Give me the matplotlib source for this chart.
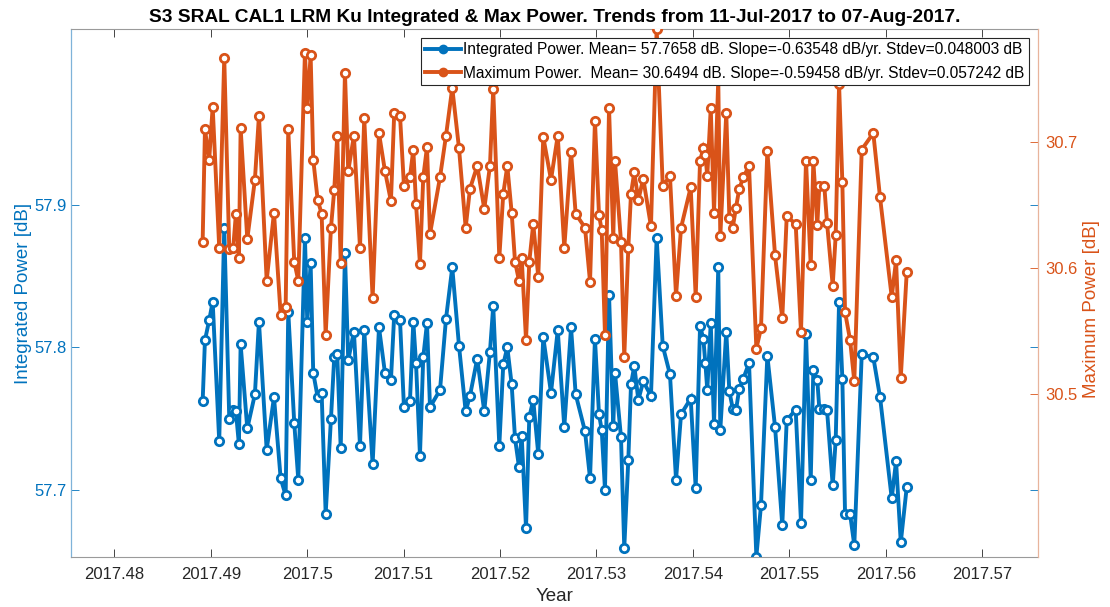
import matplotlib
matplotlib.use('Agg')
import matplotlib.pyplot as plt

plt.rcParams['font.family'] = ['Liberation Sans', 'DejaVu Sans']

# decimal year of each CAL1 measurement
years = [
    2017.48915, 2017.48939, 2017.48983, 2017.49019, 2017.49087, 2017.49139, 2017.49191, 2017.49232,
    2017.49260, 2017.49291, 2017.49309, 2017.49378, 2017.49457, 2017.49499, 2017.49579, 2017.49655,
    2017.49724, 2017.49776, 2017.49803, 2017.49865, 2017.49907, 2017.49976, 2017.50000, 2017.50035,
    2017.50062,
    2017.50108, 2017.50149, 2017.50191, 2017.50246, 2017.50280, 2017.50311, 2017.50347, 2017.50391,
    2017.50425, 2017.50484, 2017.50547, 2017.50591, 2017.50678, 2017.50744, 2017.50806, 2017.50868,
    2017.50902, 2017.50962, 2017.51003, 2017.51065, 2017.51100, 2017.51128, 2017.51169, 2017.51203,
    2017.51242, 2017.51273,
    2017.51377, 2017.51439, 2017.51504, 2017.51574, 2017.51643, 2017.51688, 2017.51763, 2017.51836,
    2017.51895, 2017.51929, 2017.51992, 2017.52033, 2017.52075, 2017.52120, 2017.52155, 2017.52196,
    2017.52224, 2017.52269, 2017.52303, 2017.52344, 2017.52396, 2017.52448,
    2017.52528, 2017.52598, 2017.52666, 2017.52736, 2017.52784, 2017.52881, 2017.52933, 2017.52984,
    2017.53026, 2017.53054, 2017.53088, 2017.53130, 2017.53174, 2017.53192, 2017.53254, 2017.53288,
    2017.53330, 2017.53358, 2017.53392, 2017.53434, 2017.53485, 2017.53565, 2017.53624,
    2017.53687, 2017.53762, 2017.53825, 2017.53877, 2017.53977, 2017.54029, 2017.54074, 2017.54108,
    2017.54129, 2017.54149, 2017.54185, 2017.54219, 2017.54263, 2017.54284, 2017.54346, 2017.54378,
    2017.54413, 2017.54447, 2017.54481, 2017.54523, 2017.54582, 2017.54658, 2017.54706, 2017.54772,
    2017.54852,
    2017.54927, 2017.54973, 2017.55066, 2017.55121, 2017.55173, 2017.55222, 2017.55249, 2017.55290,
    2017.55311, 2017.55363, 2017.55391, 2017.55450, 2017.55481, 2017.55516, 2017.55550, 2017.55578,
    2017.55630, 2017.55674, 2017.55751, 2017.55871, 2017.55941, 2017.56062, 2017.56107, 2017.56156,
    2017.56218,
]

integrated = [
    57.762, 57.805, 57.819, 57.832, 57.734, 57.884, 57.750, 57.756, 57.755, 57.732, 57.802, 57.743,
    57.767, 57.818, 57.728, 57.765, 57.708, 57.696, 57.825, 57.747, 57.707, 57.877, 57.818, 57.859,
    57.782,
    57.765, 57.768, 57.683, 57.750, 57.793, 57.795, 57.729, 57.866, 57.791, 57.811, 57.731, 57.812,
    57.718, 57.814, 57.782, 57.777, 57.823, 57.819, 57.758, 57.762, 57.818, 57.789, 57.724, 57.793,
    57.817, 57.758,
    57.770, 57.820, 57.856, 57.801, 57.755, 57.766, 57.792, 57.755, 57.797, 57.829, 57.731, 57.788,
    57.800, 57.774, 57.736, 57.716, 57.738, 57.673, 57.751, 57.763, 57.725, 57.807,
    57.768, 57.812, 57.744, 57.814, 57.767, 57.741, 57.708, 57.806, 57.753, 57.742, 57.700, 57.837,
    57.745, 57.782, 57.737, 57.659, 57.721, 57.774, 57.787, 57.763, 57.776, 57.766, 57.877,
    57.801, 57.781, 57.707, 57.753, 57.764, 57.701, 57.815, 57.806, 57.789, 57.770, 57.817, 57.746,
    57.856, 57.742, 57.811, 57.769, 57.757, 57.756, 57.771, 57.778, 57.789, 57.653, 57.689, 57.794,
    57.744,
    57.675, 57.749, 57.756, 57.677, 57.809, 57.707, 57.784, 57.777, 57.757, 57.757, 57.756, 57.703,
    57.735, 57.832, 57.778, 57.683, 57.683, 57.661, 57.795, 57.793, 57.765, 57.694, 57.720, 57.663,
    57.702,
]

maximum = [
    30.621, 30.710, 30.686, 30.728, 30.616, 30.767, 30.615, 30.616, 30.643, 30.608, 30.711, 30.623,
    30.670, 30.721, 30.590, 30.644, 30.563, 30.569, 30.710, 30.605, 30.590, 30.771, 30.727, 30.769,
    30.686,
    30.654, 30.643, 30.547, 30.632, 30.662, 30.705, 30.604, 30.755, 30.677, 30.705, 30.616, 30.719,
    30.576, 30.707, 30.677, 30.653, 30.723, 30.721, 30.665, 30.672, 30.694, 30.651, 30.603, 30.672,
    30.696, 30.627,
    30.672, 30.705, 30.743, 30.695, 30.632, 30.663, 30.681, 30.647, 30.681, 30.742, 30.608, 30.659,
    30.681, 30.644, 30.605, 30.590, 30.608, 30.543, 30.605, 30.635, 30.593, 30.704,
    30.670, 30.705, 30.616, 30.692, 30.643, 30.632, 30.589, 30.717, 30.642, 30.630, 30.547, 30.727,
    30.624, 30.685, 30.621, 30.529, 30.616, 30.659, 30.676, 30.654, 30.671, 30.633, 30.790,
    30.665, 30.673, 30.578, 30.632, 30.664, 30.577, 30.685, 30.695, 30.690, 30.673, 30.727, 30.644,
    30.750, 30.625, 30.723, 30.640, 30.632, 30.648, 30.663, 30.672, 30.681, 30.536, 30.552, 30.693,
    30.610,
    30.560, 30.641, 30.635, 30.549, 30.685, 30.602, 30.685, 30.634, 30.665, 30.665, 30.636, 30.586,
    30.626, 30.746, 30.668, 30.565, 30.543, 30.510, 30.694, 30.707, 30.656, 30.577, 30.606, 30.513,
    30.597,
]

xticks = [2017.48, 2017.49, 2017.50, 2017.51, 2017.52, 2017.53, 2017.54, 2017.55, 2017.56, 2017.57]
xtick_labels = ['2017.48', '2017.49', '2017.5', '2017.51', '2017.52', '2017.53',
                '2017.54', '2017.55', '2017.56', '2017.57']
yticks_int = [57.7, 57.8, 57.9]
yticks_max = [30.5, 30.6, 30.7]

labels = [
    'Integrated Power. Mean= 57.7658 dB. Slope=-0.63548 dB/yr. Stdev=0.048003 dB',
    'Maximum Power.  Mean= 30.6494 dB. Slope=-0.59458 dB/yr. Stdev=0.057242 dB',
]
title = 'S3 SRAL CAL1 LRM Ku Integrated & Max Power. Trends from 11-Jul-2017 to 07-Aug-2017.'

blue = '#0072BD'
orange = '#D95319'
dark = '#262626'

fig = plt.figure(figsize=(11.1, 6.07), dpi=100)
ax1 = fig.add_axes([0.064, 0.0824, 0.8712, 0.8698])
ax2 = ax1.twinx()

style = dict(lw=2.8, marker='o', ms=6, mfc='white', mew=2.0, solid_joinstyle='miter')
l1, = ax1.plot(years, integrated, color=blue, **style)
l2, = ax2.plot(years, maximum, color=orange, **style)

ax1.set_xlim(2017.4755, 2017.5758)
ax1.set_ylim(57.6528, 58.0234)
ax2.set_ylim(30.3706, 30.7897)

ax1.set_xticks(xticks)
ax1.set_xticklabels(xtick_labels)
ax1.set_yticks(yticks_int)
ax2.set_yticks(yticks_max)

ax1.tick_params(axis='x', direction='in', top=True, length=6, width=0.6,
                color=dark, labelcolor=dark, labelsize=12, pad=7)
ax1.tick_params(axis='y', direction='in', right=True, length=6, width=0.6,
                color=blue, labelcolor=blue, labelsize=12, pad=3)
ax2.tick_params(axis='y', direction='in', length=6, width=0.6,
                color=orange, labelcolor=orange, labelsize=12, pad=5)

for sp in ['top', 'bottom']:
    ax1.spines[sp].set_color('#9a9a9a')
    ax1.spines[sp].set_linewidth(0.8)
ax1.spines['left'].set_color('#7fb3d9')
ax1.spines['left'].set_linewidth(0.9)
ax1.spines['right'].set_visible(False)
for sp in ['top', 'bottom', 'left']:
    ax2.spines[sp].set_visible(False)
ax2.spines['right'].set_color('#e8b49c')
ax2.spines['right'].set_linewidth(0.9)

ax1.set_xlabel('Year', fontsize=13.5, color=dark)
ax1.set_ylabel('Integrated Power [dB]', fontsize=13.5, color=blue)
ax2.set_ylabel('Maximum Power [dB]', fontsize=13.5, color=orange, rotation=90)
ax1.xaxis.set_label_coords(0.5, -0.058)
ax1.yaxis.set_label_coords(-0.040, 0.5)
ax2.yaxis.set_label_coords(1.046, 0.47)

ax1.set_title(title, fontsize=13.8, fontweight='bold', color='black', pad=5)

leg = ax2.legend([l1, l2], labels, loc='upper right', fontsize=11.2, fancybox=False,
                 framealpha=1, edgecolor=dark, borderaxespad=0.6, borderpad=0.25,
                 labelspacing=0.55, handlelength=2.3, handletextpad=0.15)
leg.get_frame().set_linewidth(0.8)
for h, c in zip(leg.legend_handles, [blue, orange]):
    h.set_markerfacecolor(c)
    h.set_markersize(5)

fig.savefig('out.png', dpi=100, facecolor='white')
